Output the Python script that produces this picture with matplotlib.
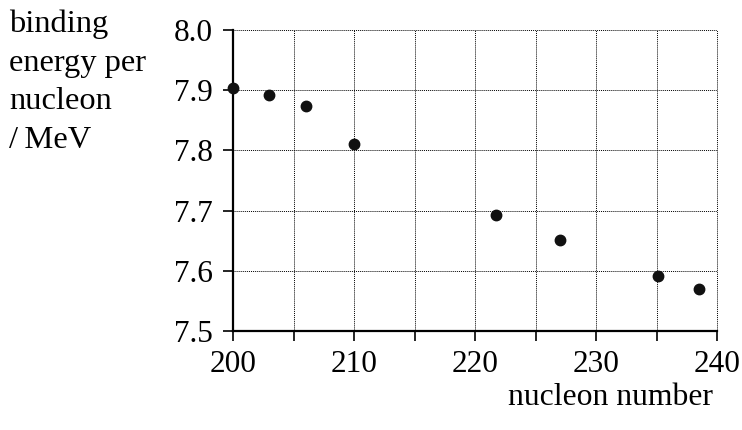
import numpy as np
import matplotlib
matplotlib.use('Agg')
import matplotlib.pyplot as plt

plt.rcParams['font.family'] = ['Liberation Serif', 'DejaVu Serif']

### DATA ###
nucleon_number = [200.0, 203.0, 206.0, 210.0, 221.7, 227.0, 235.1, 238.5]
binding_energy = [7.903, 7.892, 7.874, 7.810, 7.692, 7.651, 7.591, 7.570]

ylabel_lines = ['binding', 'energy per', 'nucleon', '/\u2009MeV']
xlabel = 'nucleon number'

### FIGURE ###
W, H = 742, 430
fig = plt.figure(figsize=(W/100, H/100), dpi=100)
ax = fig.add_axes([233/W, 1 - 331/H, (717 - 233)/W, (331 - 30)/H])

ax.axis([200.0, 240.0, 7.5, 8.0])
ax.xaxis.set_major_locator(plt.MultipleLocator(10))
ax.xaxis.set_minor_locator(plt.MultipleLocator(5))
ax.yaxis.set_major_locator(plt.MultipleLocator(0.1))
ax.yaxis.set_major_formatter(plt.FormatStrFormatter('%.1f'))

for side in ['top', 'right']:
    ax.spines[side].set_visible(False)
for side in ['left', 'bottom']:
    ax.spines[side].set_linewidth(1.6)
    ax.spines[side].set_zorder(3)

ax.tick_params(which='both', direction='out', length=7.5, width=1.2,
               labelsize=22.5)
ax.tick_params(axis='y', which='major', pad=7)
ax.tick_params(axis='x', which='major', pad=6)

ax.grid(True, which='both', color='black', linestyle=(0, (1, 1)),
        linewidth=0.7)
for gl in ax.get_xgridlines() + ax.get_ygridlines():
    gl.set_clip_on(False)
ax.set_axisbelow(True)

ax.plot(nucleon_number, binding_energy,
        linestyle='none',
        marker='o',
        markersize=7.5,
        color='#111111',
        clip_on=False,
        zorder=5)

# axis labels as free text, like the reference
for i, line in enumerate(ylabel_lines):
    fig.text(9/W, 1 - (32 + 38.7*i)/H, line, fontsize=23.4,
             ha='left', va='baseline')
fig.text(713/W, 1 - 405/H, xlabel, fontsize=22.8, ha='right', va='baseline')

fig.savefig('out.png', dpi=100)
